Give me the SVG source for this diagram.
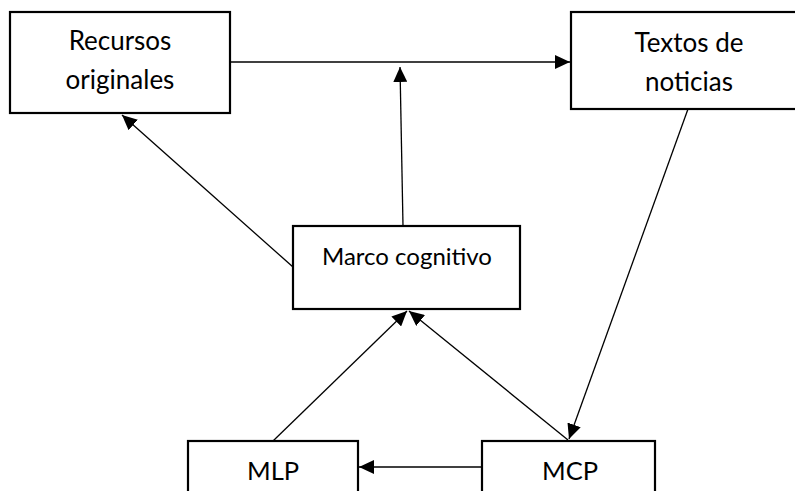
<svg xmlns="http://www.w3.org/2000/svg" width="795" height="491" viewBox="0 0 795 491">
  <style>
    .box { fill: #ffffff; stroke: #000000; stroke-width: 2.2; }
    .lbl { font-family: Lato, "Open Sans", sans-serif; font-size: 26px; fill: #000000; text-anchor: middle; }
    .mid { font-size: 24px; }
    .low { font-size: 25.5px; }
    .edge { fill: none; stroke: #000000; stroke-width: 1.3; marker-end: url(#arrow); }
  </style>
  <defs>
    <marker id="arrow" viewBox="0 0 15 14" refX="15" refY="7" markerWidth="15" markerHeight="14" markerUnits="userSpaceOnUse" orient="auto">
      <path d="M0,0 L15,7 L0,14 Z" fill="#000000"/>
    </marker>
  </defs>

  <g id="connectors">
    <line class="edge" x1="230" y1="62" x2="570" y2="62"/>
    <line class="edge" x1="403" y1="226" x2="400" y2="67"/>
    <line class="edge" x1="293" y1="267" x2="122" y2="115"/>
    <line class="edge" x1="688" y1="109" x2="569" y2="439"/>
    <line class="edge" x1="568" y1="440" x2="409" y2="311"/>
    <line class="edge" x1="273" y1="441" x2="407" y2="311"/>
    <line class="edge" x1="482" y1="467" x2="359" y2="467"/>
  </g>

  <g id="recursos">
    <rect class="box" x="10" y="12" width="220" height="101"/>
    <text class="lbl" x="120" y="50">Recursos</text>
    <text class="lbl" x="120" y="89">originales</text>
  </g>

  <g id="textos">
    <rect class="box" x="571" y="12" width="240" height="97"/>
    <text class="lbl" x="689" y="52">Textos de</text>
    <text class="lbl" x="689" y="91">noticias</text>
  </g>

  <g id="marco">
    <rect class="box" x="293" y="226" width="227" height="83"/>
    <text class="lbl mid" x="407" y="265">Marco cognitivo</text>
  </g>

  <g id="mlp">
    <rect class="box" x="188" y="441" width="170" height="70"/>
    <text class="lbl low" x="273" y="480">MLP</text>
  </g>

  <g id="mcp">
    <rect class="box" x="482" y="441" width="173" height="70"/>
    <text class="lbl low" x="570" y="480">MCP</text>
  </g>
</svg>
